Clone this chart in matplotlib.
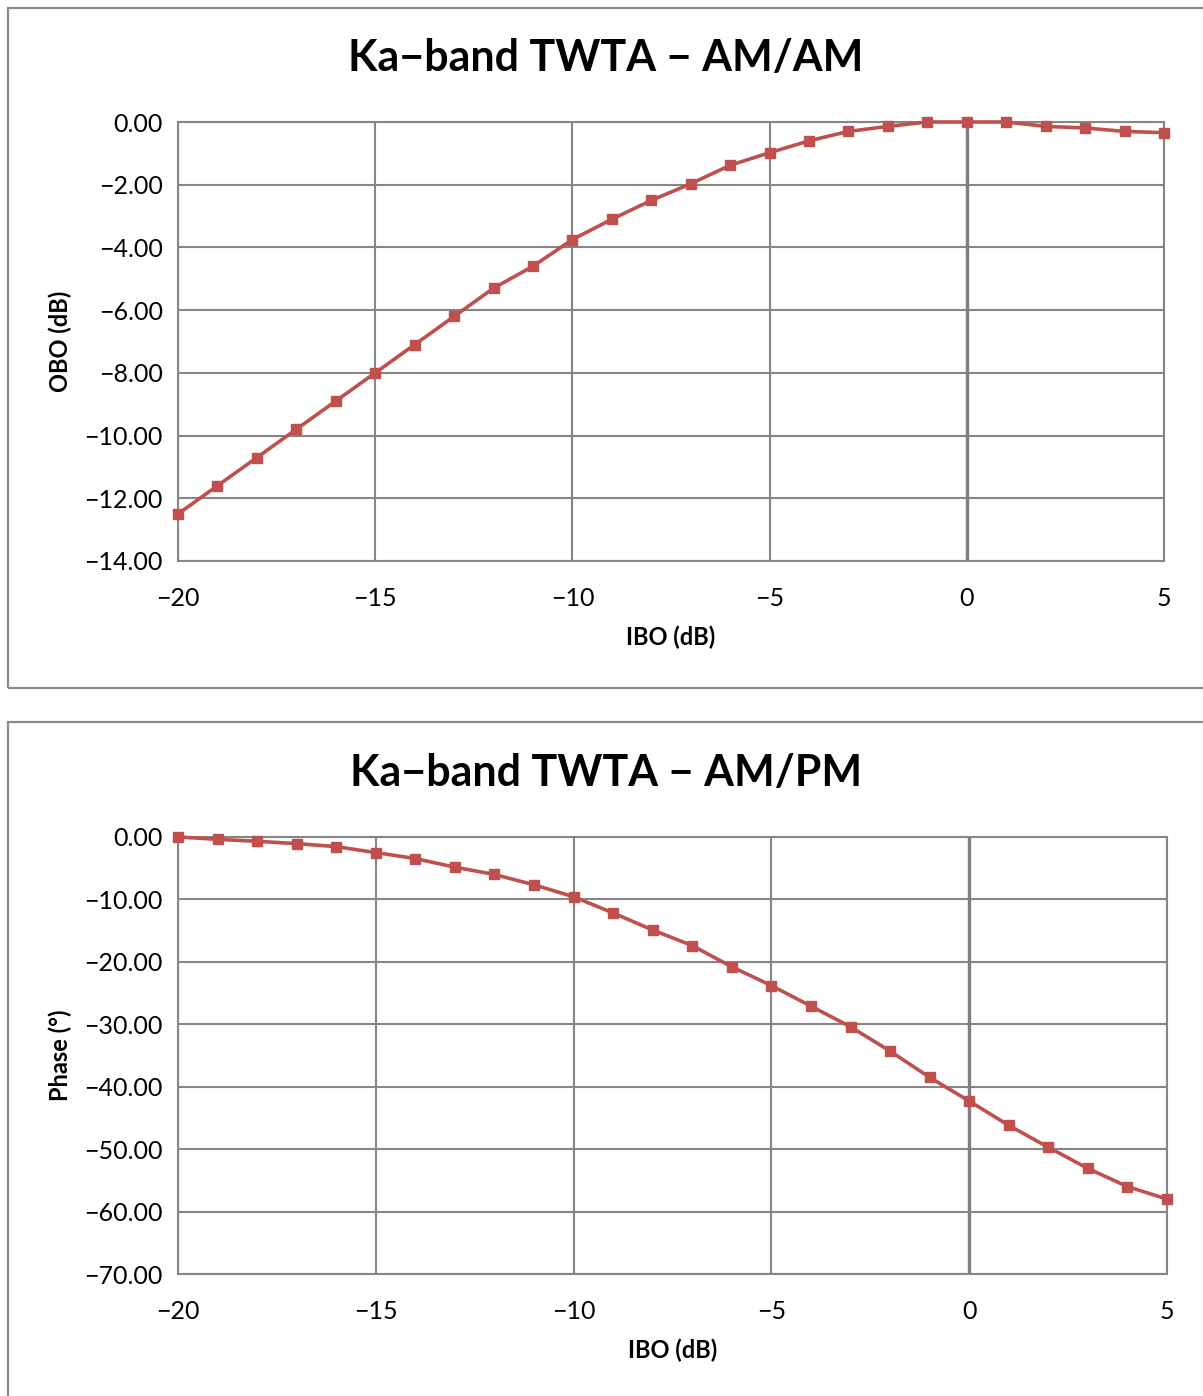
import matplotlib
matplotlib.use("Agg")
import matplotlib.pyplot as plt
from matplotlib.patches import Rectangle
from matplotlib.ticker import FuncFormatter, MultipleLocator

# ---- data ----
ibo = [-20, -19, -18, -17, -16, -15, -14, -13, -12, -11, -10, -9, -8, -7, -6,
       -5, -4, -3, -2, -1, 0, 1, 2, 3, 4, 5]
obo = [-12.5, -11.6, -10.7, -9.8, -8.9, -8.0, -7.1, -6.2, -5.3, -4.6, -3.75,
       -3.1, -2.5, -1.97, -1.38, -0.98, -0.6, -0.3, -0.14, 0.0, 0.0, 0.0,
       -0.14, -0.19, -0.3, -0.34]
phase = [0.0, -0.37, -0.69, -1.06, -1.54, -2.5, -3.45, -4.84, -6.0, -7.66,
         -9.57, -12.17, -14.9, -17.4, -20.8, -23.8, -27.1, -30.4, -34.3,
         -38.5, -42.3, -46.2, -49.7, -53.1, -56.0, -58.0]

titles = ["Ka\u2212band TWTA \u2212 AM/AM", "Ka\u2212band TWTA \u2212 AM/PM"]
ylabels = ["OBO (dB)", "Phase (\u00b0)"]
xlabel = "IBO (dB)"

plt.rcParams['font.family'] = ['Lato', 'DejaVu Sans']

W, H = 1203, 1396
fig = plt.figure(figsize=(W / 100, H / 100), dpi=100)

GRID = '#868686'
RED = '#C0504D'

def px_rect(l, t, r, b):
    return [l / W, 1 - b / H, (r - l) / W, (b - t) / H]

# panel frames
for (t, b) in [(8, 688), (722, 1420)]:
    fig.patches.append(Rectangle((8 / W, 1 - b / H), (1220 - 8) / W, (b - t) / H,
                                 transform=fig.transFigure, fill=False,
                                 edgecolor='#8a8a8a', linewidth=1.6, clip_on=False))

def yfmt(v, pos):
    s = f"{v:.2f}"
    if s in ("-0.00",):
        s = "0.00"
    return s.replace('-', '\u2212')

def xfmt(v, pos):
    return f"{int(round(v))}".replace('-', '\u2212')

specs = [
    dict(px=(178, 122, 1164, 561), y=obo, ylim=(-14, 0), ystep=2,
         title_y=58, xlab_y=637),
    dict(px=(178, 837, 1167, 1274), y=phase, ylim=(-70, 0), ystep=10,
         title_y=773, xlab_y=1350),
]

for i, sp in enumerate(specs):
    l, t, r, b = sp['px']
    ax = fig.add_axes(px_rect(l, t, r, b))
    ax.set_xlim(-20, 5)
    ax.set_ylim(*sp['ylim'])
    ax.xaxis.set_major_locator(MultipleLocator(5))
    ax.yaxis.set_major_locator(MultipleLocator(sp['ystep']))
    ax.yaxis.set_major_formatter(FuncFormatter(yfmt))
    ax.xaxis.set_major_formatter(FuncFormatter(xfmt))
    ax.grid(True, color=GRID, linewidth=1.5)
    ax.set_axisbelow(True)
    for s in ax.spines.values():
        s.set_color(GRID)
        s.set_linewidth(1.5)
    ax.axvline(0, color='#7f7f7f', linewidth=2.4, zorder=1)
    ax.tick_params(length=0, labelsize=18, pad=11)
    ax.tick_params(axis='x', pad=19)
    ax.plot(ibo, sp['y'], color=RED, linewidth=2.6, marker='s',
            markersize=7.5, markerfacecolor=RED, markeredgecolor=RED, zorder=3,
            clip_on=False)
    ax.set_xlabel(xlabel, fontsize=17, fontweight='bold')
    ax.set_ylabel(ylabels[i], fontsize=17, fontweight='bold')
    ax.yaxis.set_label_coords((60 - l) / (r - l), 0.5)
    ax.xaxis.set_label_coords(0.5, -(sp['xlab_y'] - b) / (b - t))
    ax.xaxis.label.set_va('center')
    ax.yaxis.label.set_va('center')
    fig.text(606 / W, 1 - sp['title_y'] / H, titles[i], fontsize=31,
             fontweight='bold', ha='center', va='center')

fig.savefig('out.png', dpi=100, facecolor='white')
